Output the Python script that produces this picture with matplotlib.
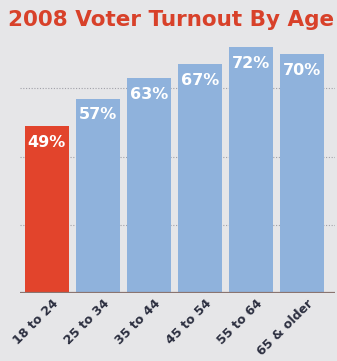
import matplotlib.pyplot as plt
from matplotlib import transforms

# Data
age_groups = ['18 to 24', '25 to 34', '35 to 44', '45 to 54', '55 to 64', '65 & older']
turnout = [49, 57, 63, 67, 72, 70]
bar_colors = ['#e2442c', '#8fb2dc', '#8fb2dc', '#8fb2dc', '#8fb2dc', '#8fb2dc']
grid_levels = [20, 40, 60]

bg = '#e6e6e8'
fig = plt.figure(figsize=(3.37, 3.61), dpi=100, facecolor=bg)
ax = fig.add_axes([0.059, 0.188, 0.935, 0.709], facecolor=bg)

x = list(range(len(age_groups)))
ax.bar(x, turnout, width=0.86, color=bar_colors, zorder=2)

# dotted grid lines behind bars
for g in grid_levels:
    ax.axhline(g, color='#a0a0a8', lw=0.8, ls=(0, (1, 1.5)), zorder=1)

# baseline
ax.axhline(0, color='#8a7470', lw=1.6, zorder=3)

# value labels inside top of bars
for xi, v in zip(x, turnout):
    ax.text(xi, v - 2.6, f'{v}%', ha='center', va='top', color='white',
            fontsize=11.5, fontweight='bold', family='DejaVu Sans', zorder=4)

ax.set_xlim(-0.53, 5.65)
ax.set_ylim(0, 75)
ax.set_xticks(x)
ax.set_xticklabels([])
ax.set_yticks([])
ax.tick_params(length=0)
for s in ax.spines.values():
    s.set_visible(False)

# rotated category labels
offset = transforms.ScaledTranslation(5 / 100, -4 / 100, fig.dpi_scale_trans)
for xi, lab in zip(x, age_groups):
    ax.text(xi, 0, lab, rotation=45, rotation_mode='anchor', ha='right', va='top',
            color='#2c2f40', fontsize=9, fontweight='bold', family='DejaVu Sans',
            transform=ax.transData + offset)

fig.text(0.025, 0.945, '2008 Voter Turnout By Age', ha='left', va='center',
         color='#d8412a', fontsize=15.5, fontweight='heavy', family='DejaVu Sans')

fig.savefig('out.png', dpi=100, facecolor=bg)
